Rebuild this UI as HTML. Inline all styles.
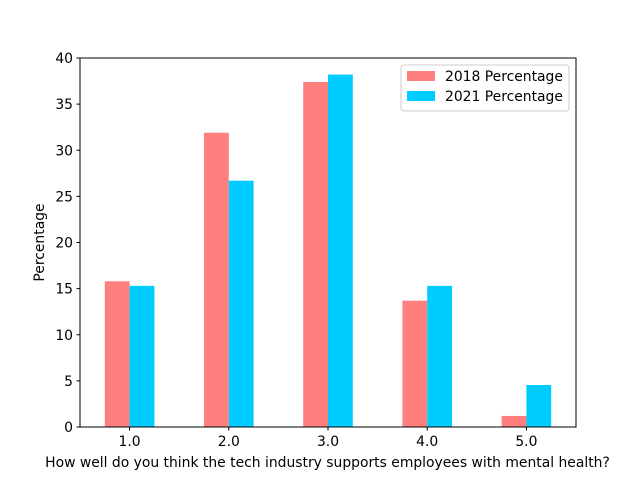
<!DOCTYPE html>
<html><head><meta charset="utf-8"><style>
html,body{margin:0;padding:0;background:#fff;}
svg{display:block;font-family:"DejaVu Sans","Liberation Sans",sans-serif;}
</style></head><body>
<svg id="chart" width="640" height="480" viewBox="0 0 640 480">
<rect x="0" y="0" width="640" height="480" fill="#fff"/>
<g id="plot"></g>
</svg>
<script>
const categories = ["1.0","2.0","3.0","4.0","5.0"];
const series2018 = [15.8, 31.9, 37.4, 13.7, 1.2];
const series2021 = [15.3, 26.7, 38.2, 15.3, 4.55];
const yTicks = [0,5,10,15,20,25,30,35,40];
const seriesNames = ["2018 Percentage","2021 Percentage"];
const seriesColors = ["#ff7f7f","#00ccff"];

const L=80,R=576,T=58,B=427;
const FS="13.9";
const ns="http://www.w3.org/2000/svg";
const g=document.getElementById("plot");
function xs(v){return L+(v+0.5)/categories.length*(R-L);}
function ys(v){return B-v/40*(B-T);}
function mk(tag,attrs,text){const e=document.createElementNS(ns,tag);for(const k in attrs)e.setAttribute(k,attrs[k]);if(text!==undefined)e.textContent=text;g.appendChild(e);return e;}
const bw=(R-L)/categories.length*0.25;
[series2018,series2021].forEach((s,si)=>{
  s.forEach((v,i)=>{
    const x=xs(i)-bw+si*bw;
    const r=mk("rect",{x:x,y:ys(v),width:bw,height:ys(0)-ys(v),fill:seriesColors[si]});
    
    
  });
});
const frame=mk("rect",{x:L,y:T,width:R-L,height:B-T,fill:"none",stroke:"#000","stroke-width":1});


yTicks.forEach(t=>{
  const y=ys(t);
  const tk=mk("line",{x1:L-3.5,x2:L,y1:y,y2:y,stroke:"#000"});
  
  
  const tx=mk("text",{x:L-7,y:y+5,"text-anchor":"end","font-size":FS},String(t));
  
  
});
categories.forEach((c,i)=>{
  const x=xs(i);
  const tk=mk("line",{x1:x,x2:x,y1:B,y2:B+3.5,stroke:"#000"});
  
  
  const tx=mk("text",{x:x,y:B+19,"text-anchor":"middle","font-size":FS},c);
  
  
});
const xt=mk("text",{x:(L+R)/2-0.5,y:467,"text-anchor":"middle","font-size":FS},"How well do you think the tech industry supports employees with mental health?");


const yt=mk("text",{x:0,y:0,"text-anchor":"middle","font-size":FS,transform:"translate(44,"+((T+B)/2)+") rotate(-90)"},"Percentage");


const lg=mk("rect",{x:401,y:65,width:168,height:46,rx:3,fill:"#fff","fill-opacity":0.8,stroke:"#ccc"});


seriesNames.forEach((n,i)=>{
  const y=71+i*20;
  const sw=mk("rect",{x:407,y:y,width:28,height:10,fill:seriesColors[i]});
  
  
  const tx=mk("text",{x:445,y:y+10,"font-size":FS},n);
  
  
});
</script>
</body></html>
